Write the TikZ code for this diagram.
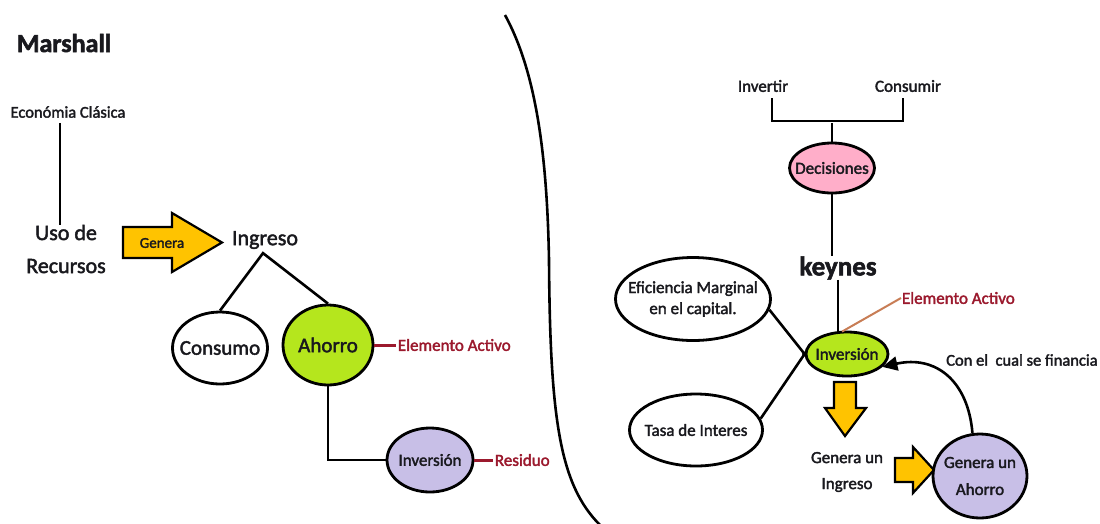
\documentclass[tikz,border=0pt]{standalone}
\usepackage{fontspec}
\setmainfont[FakeBold=2]{Carlito}
\usetikzlibrary{shapes.geometric,arrows.meta}
\definecolor{ink}{RGB}{25,25,30}
\definecolor{darkred}{RGB}{155,25,45}
\definecolor{leaf}{RGB}{181,230,29}
\definecolor{lilac}{RGB}{200,191,231}
\definecolor{rose}{RGB}{255,174,201}
\definecolor{gold}{RGB}{255,195,0}
\definecolor{rust}{RGB}{200,125,85}

\begin{document}
\begin{tikzpicture}[x=1pt,y=-1pt,
  lbl/.style={inner sep=0pt, text=ink, font=\fontsize{17}{21}\selectfont, align=center},
  big/.style={lbl, font=\fontsize{22}{33}\selectfont},
  bubble/.style={ellipse, draw=black, line width=2.8pt, inner sep=0pt},
  inside/.style={label={[lbl]center:{#1}}},
  insidebig/.style={label={[lbl, font=\fontsize{21}{24}\selectfont]center:{#1}}},
  link/.style={draw=black, line width=2.6pt, line join=miter},
  note/.style={inner sep=0pt, text=darkred, font=\fontsize{17}{21}\selectfont, anchor=west},
  tag/.style={draw=darkred, line width=3pt},
  blockarrow/.style={fill=gold, draw=black, line width=2.2pt, line join=miter},
]
\useasboundingbox (0,0) rectangle (1100,523);
\fill[white] (0,0) rectangle (1100,523);

% ---------- Marshall ----------
\node[lbl, font=\bfseries\fontsize{26}{30}\selectfont] (marshall) at (64,43) {Marshall};
\node[lbl, font=\fontsize{16.5}{20}\selectfont] (clasica) at (68,112) {Económia Clásica};
\node[big] (uso) at (66,249) {Uso de\\Recursos};
\draw[link] ([xshift=-8pt,yshift=-5pt]clasica.south) -- ([xshift=-6pt]uso.north);

% block arrow "Genera"
\draw[blockarrow] (123,227) -- (172,227) -- (172,213) -- (222,242.5) -- (172,272)
  -- (172,258) -- (123,258) -- cycle;
\node[lbl, font=\fontsize{15}{17}\selectfont] (genera) at (162,243) {Genera};

\node[big] (ingreso) at (265,240) {Ingreso};
\coordinate (split) at ([xshift=-2pt,yshift=-4pt]ingreso.south);

\node[bubble, minimum width=95, minimum height=72, insidebig={Consumo}]
  (consumo) at (220,348) {};
\node[bubble, fill=leaf, minimum width=90, minimum height=80, insidebig={Ahorro}]
  (ahorroL) at (328,345) {};
\draw[link] (consumo.north) -- (split) -- (ahorroL.north);

\draw[tag] (ahorroL.east) -- ++(22,0) node[note] (activoL) {Elemento Activo};

\node[bubble, fill=lilac, minimum width=86, minimum height=64, inside={Inversión}]
  (invL) at (430,460) {};
\draw[link] (ahorroL.south) |- (invL.west);
\draw[tag] (invL.east) -- ++(19,0) node[note] (residuo) {Residuo};

% ---------- separator ----------
\draw[line width=2.6pt] (505,15) .. controls (535,70) and (547,150) .. (549,260)
  .. controls (550,420) and (560,485) .. (600,525);

% ---------- Keynes ----------
\node[lbl] (invertir) at (763,86) {Invertir};
\node[lbl] (consumir) at (908,86) {Consumir};
\draw[link] ([xshift=9pt,yshift=-6pt]invertir.south) |- ([xshift=-5pt,yshift=-29pt]consumir.south)
  -- ([xshift=-5pt,yshift=-6pt]consumir.south);
\coordinate (bar) at (832,123);

\node[bubble, fill=rose, minimum width=85, minimum height=50, inside={Decisiones}]
  (decis) at (832,168) {};
\draw[link] (decis.north) -- (bar);

\node[lbl, font=\bfseries\fontsize{27}{30}\selectfont] (keynes) at (838,268) {keynes};
\draw[link] (decis.south) -- (decis.south |- keynes.north);

\node[bubble, fill=leaf, minimum width=82, minimum height=44, inside={Inversión}]
  (invR) at (847,354) {};
\draw[link] (keynes.south) -- (keynes.south |- invR.north);

\draw[rust, line width=2pt] ([xshift=-5pt,yshift=-1pt]invR.north) -- (901,298)
  node[note] (activoR) {Elemento Activo};

\node[bubble, minimum width=155, minimum height=83,
  inside={Eficiencia Marginal\\en el capital.}] (efic) at (693,299) {};
\node[bubble, minimum width=133, minimum height=72, inside={Tasa de Interes}]
  (tasa) at (696,430) {};
\draw[link] (efic.-8) -- (invR.west);
\draw[link] (tasa.10) -- (invR.west);
\fill (invR.west) circle (2.5);

% downward block arrow
\draw[blockarrow] (834,382) -- (856,382) -- (856,408) -- (866,408) -- (845,436)
  -- (825,408) -- (834,408) -- cycle;
\node[lbl, font=\fontsize{17}{26}\selectfont] (gIngreso) at (847,472) {Genera un\\Ingreso};

% rightward block arrow
\draw[blockarrow] (895,458) -- (913,458) -- (913,447) -- (934,470) -- (913,493)
  -- (913,482) -- (895,482) -- cycle;

\node[bubble, fill=lilac, minimum width=94, minimum height=84,
  label={[lbl, font=\fontsize{17}{27}\selectfont]center:{Genera un\\Ahorro}}]
  (ahorroR) at (980,476) {};

\draw[link, -{Triangle[length=15pt,width=14pt]}] (ahorroR.100)
  .. controls (968,380) and (935,355) .. (invR.-20);
\node[lbl, anchor=west, font=\fontsize{16.5}{20}\selectfont] (financia) at (946,360)
  {Con el\ \ cual se financia};

\end{tikzpicture}
\end{document}
